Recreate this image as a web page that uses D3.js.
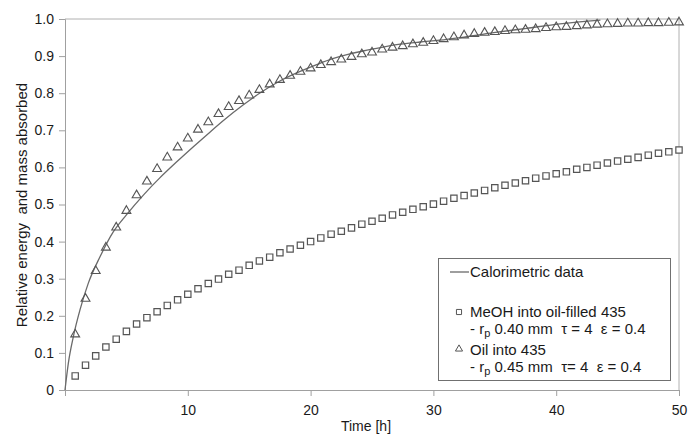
<!DOCTYPE html>
<html>
<head>
<meta charset="utf-8">
<script src="https://cdn.jsdelivr.net/npm/d3@7"></script>
<style>
  body { margin: 0; background: #fff; }
  text { font-family: Arial, "Liberation Sans", sans-serif; fill: #1a1a1a; white-space: pre; }
</style>
</head>
<body>
<div class="container"></div>
<script>
// sample times [h] of the two model series
const hours = [0.83, 1.67, 2.5, 3.33, 4.17, 5, 5.83, 6.67, 7.5, 8.33, 9.17, 10, 10.83, 11.67, 12.5,
  13.33, 14.17, 15, 15.83, 16.67, 17.5, 18.33, 19.17, 20, 20.83, 21.67, 22.5, 23.33, 24.17, 25,
  25.83, 26.67, 27.5, 28.33, 29.17, 30, 30.83, 31.67, 32.5, 33.33, 34.17, 35, 35.83, 36.67, 37.5,
  38.33, 39.17, 40, 40.83, 41.67, 42.5, 43.33, 44.17, 45, 45.83, 46.67, 47.5, 48.33, 49.17, 50]

// MeOH into oil-filled 435 (squares)
const meohValues = [0.038, 0.067, 0.092, 0.116, 0.137, 0.158, 0.178, 0.195, 0.211, 0.228, 0.243, 0.258, 0.273, 0.287, 0.299,
  0.312, 0.323, 0.336, 0.348, 0.358, 0.370, 0.380, 0.390, 0.400, 0.410, 0.420, 0.428, 0.437, 0.447, 0.455,
  0.463, 0.472, 0.479, 0.487, 0.494, 0.501, 0.509, 0.517, 0.524, 0.531, 0.538, 0.545, 0.552, 0.558, 0.564,
  0.571, 0.577, 0.583, 0.588, 0.595, 0.600, 0.606, 0.612, 0.617, 0.622, 0.627, 0.633, 0.638, 0.642, 0.647]

// Oil into 435 (triangles)
const oilValues = [0.150, 0.246, 0.321, 0.384, 0.438, 0.483, 0.525, 0.562, 0.596, 0.627, 0.654, 0.678, 0.702, 0.722, 0.744,
  0.763, 0.779, 0.794, 0.809, 0.824, 0.836, 0.847, 0.858, 0.867, 0.876, 0.884, 0.891, 0.898, 0.905, 0.910,
  0.918, 0.923, 0.927, 0.932, 0.936, 0.941, 0.946, 0.951, 0.956, 0.960, 0.963, 0.965, 0.968, 0.970, 0.971,
  0.973, 0.976, 0.978, 0.979, 0.981, 0.983, 0.985, 0.986, 0.987, 0.988, 0.988, 0.989, 0.989, 0.990, 0.991]

// Calorimetric data (line)
const calTime = [0, 0.27, 0.68, 1.22, 1.9, 2.85, 3.93, 5.0, 6.4, 7.7, 9.1, 10.5, 11.8, 13.0, 14.5, 15.9,
  17.5, 19.1, 20.5, 21.8, 23.2, 24.6, 26.0, 27.3, 28.9, 30.5, 32.2, 34.9, 37.6, 40.3, 43.6]
const calValues = [0, 0.072, 0.144, 0.216, 0.288, 0.359, 0.426, 0.472, 0.526, 0.571, 0.615, 0.657, 0.695, 0.729, 0.768, 0.801,
  0.833, 0.858, 0.877, 0.893, 0.906, 0.916, 0.925, 0.932, 0.938, 0.943, 0.950, 0.963, 0.975, 0.987, 0.997]

const xTicks = [0, 10, 20, 30, 40, 50]
const yTicks = [0, 0.1, 0.2, 0.3, 0.4, 0.5, 0.6, 0.7, 0.8, 0.9, 1.0]

let margin = { top: 19, left: 65, bottom: 45, right: 9 }
const width = 688 - margin.left - margin.right
const height = 435 - margin.top - margin.bottom

const svg = d3.select('.container').append('svg')
  .attr('width', 688)
  .attr('height', 435)
const g = svg.append('g')
  .attr('transform', `translate(${margin.left},${margin.top})`)

const x = d3.scaleLinear().domain([0, 50]).range([0, width])
const y = d3.scaleLinear().domain([0, 1]).range([height, 0])

// frame top + right
g.append('path')
  .attr('d', `M0,0H${width}V${height}`)
  .attr('fill', 'none')
  .attr('stroke', '#b0b0b0')

//Axes
const xAxis = g.append('g')
  .attr('transform', `translate(0,${height})`)
  .call(d3.axisBottom(x).tickValues(xTicks).tickSize(6).tickPadding(9)
    .tickFormat(d => d === 0 ? '' : d))
const yAxis = g.append('g')
  .call(d3.axisLeft(y).tickValues(yTicks).tickSize(6).tickPadding(5)
    .tickFormat(d => d === 0 ? '0' : d3.format('.1f')(d)))

;[xAxis, yAxis].forEach(a => {
  a.select('.domain').attr('stroke', '#a0a0a0')
  a.selectAll('.tick line').attr('stroke', '#a0a0a0')
  a.selectAll('.tick text').style('font-size', '14px').attr('fill', '#1a1a1a')
    .style('font-family', 'Arial, "Liberation Sans", sans-serif')
})

// titles
g.append('text')
  .attr('x', x(25) - 6)
  .attr('y', height + 41)
  .attr('text-anchor', 'middle')
  .style('font-size', '14px')
  .text('Time [h]')
g.append('text')
  .attr('transform', 'rotate(-90)')
  .attr('x', -(205 - margin.top))
  .attr('y', -38)
  .attr('text-anchor', 'middle')
  .style('font-size', '15px')
  .text('Relative energy  and mass absorbed')

// calorimetric line
const calData = calTime.map((t, i) => ({ t: t, v: calValues[i] }))
g.append('path')
  .datum(calData)
  .attr('fill', 'none')
  .attr('stroke', '#6a6a6a')
  .attr('stroke-width', 1.3)
  .attr('d', d3.line().x(d => x(d.t)).y(d => y(d.v)).curve(d3.curveMonotoneX))

const squareSym = d3.symbol().type(d3.symbolSquare).size(40)
const triSym = d3.symbol().type(d3.symbolTriangle).size(34)

const meohData = hours.map((t, i) => ({ t: t, v: meohValues[i] }))
const oilData = hours.map((t, i) => ({ t: t, v: oilValues[i] }))

g.selectAll('.sq')
  .data(meohData)
  .enter()
  .append('path')
  .attr('class', 'sq')
  .attr('d', squareSym)
  .attr('transform', d => `translate(${x(d.t)},${y(d.v)})`)
  .attr('fill', '#fff')
  .attr('stroke', '#555')
  .attr('stroke-width', 1.2)

g.selectAll('.tri')
  .data(oilData)
  .enter()
  .append('path')
  .attr('class', 'tri')
  .attr('d', triSym)
  .attr('transform', d => `translate(${x(d.t)},${y(d.v)})`)
  .attr('fill', 'none')
  .attr('stroke', '#555')
  .attr('stroke-width', 1.1)

//Legend
const legend = svg.append('g').attr('id', 'legend')
legend.append('rect')
  .attr('x', 438.5).attr('y', 258.5)
  .attr('width', 232).attr('height', 122)
  .attr('fill', '#fff')
  .attr('stroke', '#707070')

legend.append('line')
  .attr('x1', 450).attr('x2', 469)
  .attr('y1', 272).attr('y2', 272)
  .attr('stroke', '#6a6a6a').attr('stroke-width', 1.3)
legend.append('text').attr('x', 470).attr('y', 277).style('font-size', '15px').text('Calorimetric data')

legend.append('path').attr('d', d3.symbol().type(d3.symbolSquare).size(26))
  .attr('transform', 'translate(459,312)')
  .attr('fill', '#fff').attr('stroke', '#555')
legend.append('text').attr('x', 470).attr('y', 317).style('font-size', '15px').text('MeOH into oil-filled 435')

const rLine = (yy, txt) => {
  const t = legend.append('text').attr('x', 470).attr('y', yy).style('font-size', '15px')
  t.append('tspan').text('- r')
  t.append('tspan').attr('dy', 3).style('font-size', '11px').text('p')
  t.append('tspan').attr('dy', -3).text(txt)
}
rLine(334, ' 0.40 mm  \u03c4 = 4  \u03b5 = 0.4')

legend.append('path').attr('d', d3.symbol().type(d3.symbolTriangle).size(22))
  .attr('transform', 'translate(459,349)')
  .attr('fill', 'none').attr('stroke', '#555')
legend.append('text').attr('x', 470).attr('y', 355).style('font-size', '15px').text('Oil into 435')
rLine(372, ' 0.45 mm  \u03c4= 4  \u03b5 = 0.4')
</script>
</body>
</html>
